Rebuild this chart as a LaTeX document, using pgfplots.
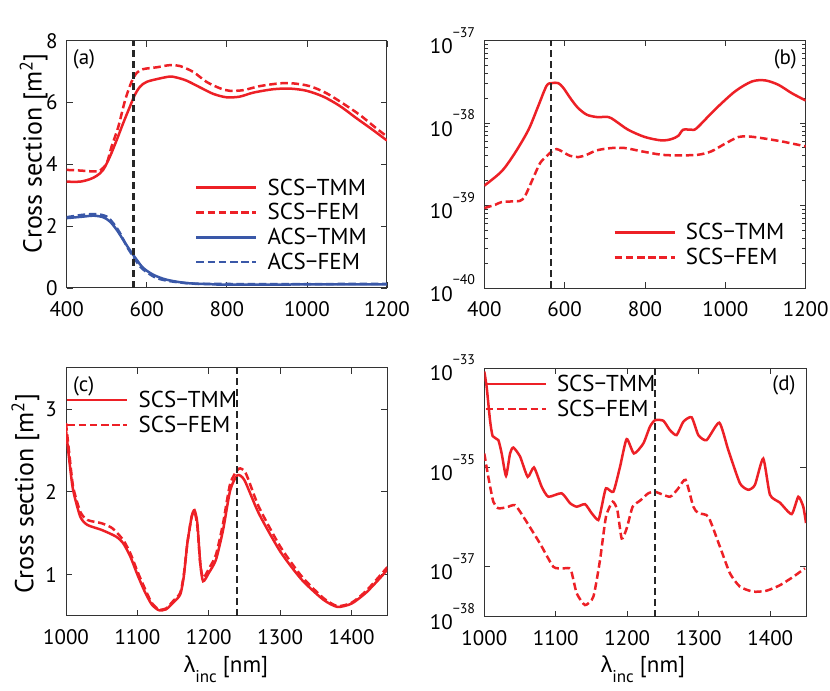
\documentclass[border=0pt]{standalone}
\usepackage{fontspec}
\setmainfont{PT Sans}
\newfontfamily\gr{Liberation Sans}
\usepackage{pgfplots}
\pgfplotsset{compat=1.18}

\definecolor{mred}{RGB}{237,32,38}
\definecolor{mblue}{RGB}{58,88,168}

\newcommand{\tenp}[1]{10\raisebox{0.78em}{\fontsize{14bp}{14bp}\selectfont −#1}}

\pgfplotsset{
  panel/.style={
    scale only axis, anchor=south west,
    tick align=inside, xtick pos=both, ytick pos=both,
    major tick length=6bp, minor tick length=3.5bp,
    axis line style={black!80, line width=1bp},
    every tick/.style={black!80, line width=0.8bp},
    tick label style={font=\fontsize{21bp}{21bp}\selectfont, inner sep=0pt},
    xticklabel style={yshift=-13.7bp},
    yticklabel style={xshift=-9bp},
    /pgf/number format/assume math mode=true,
    /pgf/number format/1000 sep={},
    legend style={draw=none, fill=none, inner sep=0pt,
      font=\fontsize{23bp}{23bp}\selectfont,
      row sep=7bp, column sep=10bp, nodes={inner sep=0pt}},
    legend cell align=left,
    legend image code/.code={\draw[##1] (0bp,0bp) -- (60bp,0bp);},
  },
  tmm/.style={line width=2.5bp},
  fem/.style={line width=2.5bp, dash pattern=on 7.5bp off 3.7bp},
  vline/.style={black!85, line width=2.2bp, dash pattern=on 7bp off 4bp, forget plot},
}

\begin{document}
\begin{tikzpicture}
\useasboundingbox (0,0) rectangle (830bp,691bp);

% (a)
\begin{axis}[panel, at={(66.7bp,403bp)}, width=320.3bp, height=247.3bp,
  xmin=400, xmax=1200, ymin=0, ymax=8,
  xtick={400,600,800,1000,1200}, ytick={0,2,4,6,8},
  legend style={at={(0.4006,0.443)}, anchor=north west}]
\addplot[mred, tmm, smooth] coordinates {(400,3.44)(433,3.44)(458,3.52)(475,3.63)(491,3.82)(508,4.25)(525,4.79)(541,5.33)(558,5.87)(570,6.24)(583,6.51)(600,6.67)(633,6.78)(658,6.84)(674,6.81)(699,6.71)(733,6.49)(766,6.28)(799,6.17)(832,6.19)(866,6.32)(916,6.43)(958,6.45)(999,6.38)(1041,6.19)(1082,5.89)(1124,5.49)(1165,5.11)(1200,4.77)};
\addlegendentry{SCS−TMM}
\addplot[mred, fem, smooth] coordinates {(400,3.82)(433,3.80)(467,3.77)(483,3.80)(500,4.04)(512,4.57)(529,5.22)(546,6.08)(562,6.67)(575,6.96)(591,7.08)(625,7.14)(658,7.21)(683,7.18)(716,6.99)(749,6.67)(783,6.46)(807,6.38)(841,6.40)(882,6.53)(932,6.62)(965,6.62)(1007,6.53)(1049,6.30)(1090,5.97)(1132,5.60)(1173,5.17)(1200,4.90)};
\addlegendentry{SCS−FEM}
\addplot[mblue, tmm, smooth] coordinates {(400,2.26)(442,2.31)(467,2.34)(491,2.29)(508,2.15)(525,1.88)(541,1.56)(558,1.22)(575,0.91)(591,0.65)(616,0.43)(649,0.27)(699,0.16)(766,0.12)(816,0.11)(1200,0.12)};
\addlegendentry{ACS−TMM}
\addplot[mblue, fem, smooth] coordinates {(400,2.29)(442,2.37)(475,2.39)(500,2.31)(516,2.10)(533,1.78)(550,1.35)(566,1.02)(583,0.70)(600,0.51)(625,0.32)(658,0.22)(707,0.15)(774,0.13)(1200,0.13)};
\addlegendentry{ACS−FEM}
\addplot[vline] coordinates {(567,0)(567,8)};
\node[anchor=north west, inner sep=0pt, font=\fontsize{21bp}{21bp}\selectfont] at ([xshift=6bp,yshift=-9bp]rel axis cs:0,1) {(a)};
\node[anchor=base west, inner sep=0pt, font=\fontsize{20bp}{20bp}\selectfont] at ([xshift=-1.5bp,yshift=11.7bp]rel axis cs:0,1) {x 10\raisebox{0.78em}{\fontsize{14bp}{14bp}\selectfont −13}};
\end{axis}

% (b)
\begin{axis}[panel, at={(484.3bp,403bp)}, width=321.4bp, height=247.6bp,
  ymode=log, xmin=400, xmax=1200, ymin=1e-40, ymax=1e-37,
  xtick={400,600,800,1000,1200}, ytick={1e-40,1e-39,1e-38,1e-37},
  yticklabels={\tenp{40},\tenp{39},\tenp{38},\tenp{37}},
  legend style={at={(0.401,0.261)}, anchor=north west}]
\addplot[mred, tmm, smooth] coordinates {(400,1.74e-39)(443,2.59e-39)(476,4.31e-39)(510,8.28e-39)(534,1.59e-38)(555,2.82e-38)(568,3.04e-38)(584,3.04e-38)(597,2.65e-38)(617,1.91e-38)(634,1.51e-38)(655,1.26e-38)(680,1.18e-38)(709,1.18e-38)(725,1.07e-38)(758,8.28e-39)(800,6.75e-39)(841,6.15e-39)(866,6.38e-39)(883,7.00e-39)(895,8.28e-39)(916,8.28e-39)(929,8.67e-39)(974,1.45e-38)(1024,2.41e-38)(1066,3.18e-38)(1099,3.28e-38)(1132,2.90e-38)(1165,2.30e-38)(1200,1.87e-38)};
\addlegendentry{SCS−TMM}
\addplot[mred, fem, smooth] coordinates {(400,9.31e-40)(427,1.02e-39)(443,1.10e-39)(468,1.12e-39)(489,1.14e-39)(501,1.29e-39)(518,1.96e-39)(539,3.27e-39)(555,3.94e-39)(568,4.53e-39)(580,4.83e-39)(593,4.53e-39)(613,4.01e-39)(634,3.86e-39)(655,4.12e-39)(680,4.66e-39)(717,4.97e-39)(750,4.97e-39)(792,4.53e-39)(841,4.12e-39)(883,4.05e-39)(932,4.12e-39)(965,4.53e-39)(999,5.60e-39)(1032,6.75e-39)(1057,6.87e-39)(1090,6.56e-39)(1140,5.98e-39)(1200,5.20e-39)};
\addlegendentry{SCS−FEM}
\addplot[vline] coordinates {(567,1e-40)(567,1e-37)};
\node[anchor=north east, inner sep=0pt, font=\fontsize{21bp}{21bp}\selectfont] at ([xshift=-8.7bp,yshift=-9.3bp]rel axis cs:1,1) {(b)};
\end{axis}

% (c)
\begin{axis}[panel, at={(66bp,75bp)}, width=321.3bp, height=248.3bp,
  xmin=1000, xmax=1450, ymin=0.5, ymax=3.5,
  xtick={1000,1100,1200,1300,1400}, ytick={1,2,3},
  legend style={at={(0,0.907)}, anchor=north west}]
\addplot[mred, tmm, smooth, tension=0.4] coordinates {(1000,2.75)(1005,2.35)(1010,2.02)(1020,1.70)(1030,1.60)(1050,1.54)(1070,1.46)(1080,1.38)(1090,1.22)(1100,1.00)(1110,0.80)(1120,0.64)(1130,0.57)(1140,0.58)(1150,0.66)(1160,0.76)(1165,0.98)(1170,1.38)(1176,1.70)(1180,1.78)(1184,1.62)(1188,1.14)(1192,0.92)(1200,1.02)(1210,1.18)(1220,1.54)(1230,2.02)(1240,2.20)(1250,2.14)(1270,1.74)(1300,1.28)(1330,0.94)(1360,0.70)(1380,0.61)(1400,0.65)(1420,0.78)(1440,0.96)(1450,1.06)};
\addlegendentry{SCS−TMM}
\addplot[mred, fem, smooth, tension=0.4] coordinates {(1000,2.83)(1005,2.43)(1010,2.06)(1020,1.76)(1030,1.66)(1050,1.62)(1065,1.56)(1080,1.42)(1090,1.26)(1100,1.04)(1110,0.84)(1120,0.66)(1130,0.58)(1140,0.59)(1150,0.68)(1160,0.78)(1165,1.00)(1170,1.38)(1176,1.70)(1180,1.76)(1184,1.58)(1188,1.14)(1192,0.96)(1200,1.07)(1210,1.24)(1220,1.62)(1230,2.10)(1242,2.28)(1252,2.22)(1270,1.82)(1300,1.34)(1330,0.98)(1360,0.72)(1380,0.62)(1400,0.66)(1420,0.80)(1440,0.99)(1450,1.09)};
\addlegendentry{SCS−FEM}
\addplot[vline] coordinates {(1239,0.5)(1239,3.5)};
\node[anchor=north west, inner sep=0pt, font=\fontsize{21bp}{21bp}\selectfont] at ([xshift=7bp,yshift=-9bp]rel axis cs:0,1) {(c)};
\node[anchor=base west, inner sep=0pt, font=\fontsize{20bp}{20bp}\selectfont] at ([xshift=-1bp,yshift=11bp]rel axis cs:0,1) {x 10\raisebox{0.78em}{\fontsize{14bp}{14bp}\selectfont −12}};
\end{axis}

% (d)
\begin{axis}[panel, at={(484.3bp,74.5bp)}, width=321.7bp, height=248.5bp,
  ymode=log, xmin=1000, xmax=1450, ymin=1e-38, ymax=1e-33,
  xtick={1000,1100,1200,1300,1400}, ytick={1e-38,1e-37,1e-35,1e-33},
  yticklabels={\tenp{38},\tenp{37},\tenp{35},\tenp{33}}, minor ytick={},
  legend style={at={(0,0.972)}, anchor=north west}]
\addplot[mred, tmm, smooth, tension=0.35] coordinates {(1000,8.51e-34)(1003.3,4.17e-34)(1008,8.91e-35)(1011.7,4.27e-35)(1019.6,3.55e-35)(1024.3,1.91e-35)(1030.4,6.76e-36)(1036,1.91e-35)(1040.6,2.51e-35)(1050,1.66e-35)(1060.7,6.46e-36)(1069.5,1.00e-35)(1080.3,4.07e-36)(1089.6,2.57e-36)(1108.2,3.02e-36)(1119.9,1.91e-36)(1129.2,1.62e-36)(1140.9,1.82e-36)(1150.2,1.20e-36)(1159.5,8.71e-37)(1164.2,1.62e-36)(1170.2,3.80e-36)(1180.5,3.24e-36)(1189.8,1.02e-35)(1199.1,3.72e-35)(1209.3,1.91e-35)(1222.4,3.02e-35)(1231.7,6.61e-35)(1238.8,8.91e-35)(1250.4,8.71e-35)(1259.7,5.62e-35)(1269,4.47e-35)(1278.4,8.32e-35)(1290,1.02e-34)(1299.4,4.47e-35)(1311,3.55e-35)(1328.7,7.94e-35)(1341.3,2.24e-35)(1357.6,4.79e-36)(1369.3,3.55e-36)(1378.6,4.47e-36)(1390.2,1.51e-35)(1399.6,2.82e-36)(1413.6,1.95e-36)(1429.9,1.15e-36)(1439.2,2.57e-36)(1446.2,1.62e-36)(1450,7.59e-37)};
\addlegendentry{SCS−TMM}
\addplot[mred, fem, smooth, tension=0.35] coordinates {(1000,1.91e-35)(1005.6,6.46e-36)(1012.6,2.04e-36)(1019.6,1.51e-36)(1031.3,1.58e-36)(1043,1.74e-36)(1054.6,1.02e-36)(1077.9,2.95e-37)(1096.6,1.00e-37)(1110.6,9.33e-38)(1120.8,8.91e-38)(1129.2,2.95e-38)(1140.9,1.70e-38)(1152.6,2.51e-38)(1161.9,1.38e-37)(1170.2,1.02e-36)(1179.6,2.04e-36)(1186.1,1.38e-36)(1192.2,3.72e-37)(1199.1,5.89e-37)(1207.5,1.62e-36)(1217.8,2.14e-36)(1229.4,3.02e-36)(1238.8,3.24e-36)(1259.7,2.57e-36)(1271.4,3.80e-36)(1281.6,5.62e-36)(1292.4,1.62e-36)(1299.4,1.20e-36)(1313.4,1.02e-36)(1329.7,2.51e-37)(1343.6,7.41e-38)(1357.6,3.98e-38)(1376.2,3.16e-38)(1394.9,3.31e-38)(1413.6,4.27e-38)(1432.2,6.31e-38)(1448.5,9.33e-38)};
\addlegendentry{SCS−FEM}
\addplot[vline] coordinates {(1239,1e-38)(1239,1e-33)};
\node[anchor=north east, inner sep=0pt, font=\fontsize{21bp}{21bp}\selectfont] at ([xshift=-10.3bp,yshift=-7.5bp]rel axis cs:1,1) {(d)};
\end{axis}

% axis titles
\node[rotate=90, anchor=base, inner sep=0pt, font=\fontsize{26bp}{26bp}\selectfont] at (41.7bp,537.7bp) {Cross section [m\textsuperscript{2}]};
\node[rotate=90, anchor=base, inner sep=0pt, font=\fontsize{26bp}{26bp}\selectfont] at (33.3bp,197bp) {Cross section [m\textsuperscript{2}]};
\node[anchor=base, inner sep=0pt, font=\fontsize{23bp}{23bp}\selectfont] at (226bp,18.3bp) {{\gr λ}\raisebox{-0.42em}{\fontsize{17bp}{17bp}\selectfont inc} [nm]};
\node[anchor=base, inner sep=0pt, font=\fontsize{23bp}{23bp}\selectfont] at (643bp,18.3bp) {{\gr λ}\raisebox{-0.42em}{\fontsize{17bp}{17bp}\selectfont inc} [nm]};
\end{tikzpicture}
\end{document}
